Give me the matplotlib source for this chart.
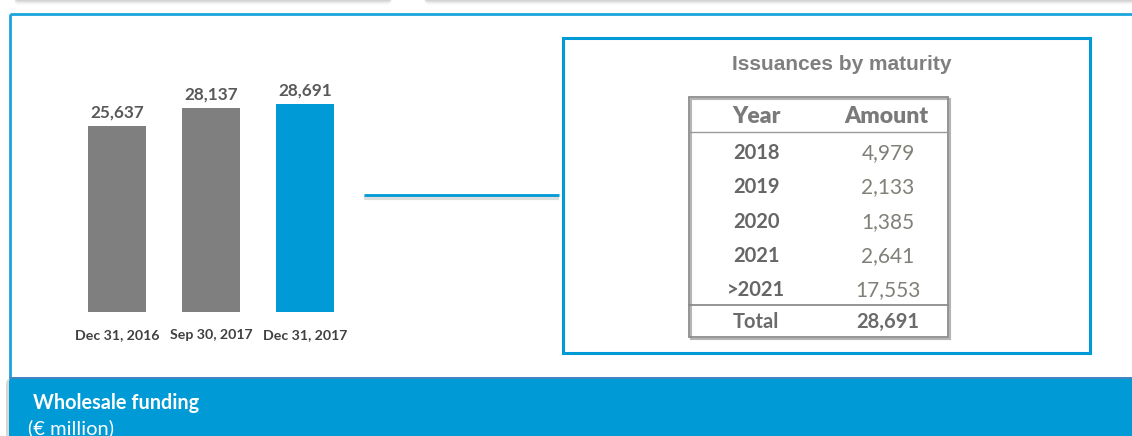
import matplotlib
matplotlib.use("Agg")
import matplotlib.pyplot as plt
from matplotlib.patches import Rectangle, FancyBboxPatch

# data
dates = ["Dec 31, 2016", "Sep 30, 2017", "Dec 31, 2017"]
funding = [25637, 28137, 28691]
bar_colors = ["#7f7f7f", "#7f7f7f", "#009ad6"]

years = ["2018", "2019", "2020", "2021", ">2021"]
amounts = [4979, 2133, 1385, 2641, 17553]
total = 28691

BLUE = "#009ad6"
W, H = 1132, 436

fig = plt.figure(figsize=(W / 100, H / 100), dpi=100)
fig.patch.set_facecolor("white")

# background axes in pixel coordinates
bg = fig.add_axes([0, 0, 1, 1])
bg.set_xlim(0, W)
bg.set_ylim(H, 0)
bg.axis("off")

# top shadow strips
for i, a in enumerate([0.35, 0.22, 0.12, 0.06]):
    bg.add_patch(FancyBboxPatch((14, -6 + i * 1.6), 378, 6, boxstyle="round,pad=0,rounding_size=5",
                                fc="#8a8a8a", ec="none", alpha=a))
    bg.add_patch(FancyBboxPatch((424, -6 + i * 1.6), 720, 6, boxstyle="round,pad=0,rounding_size=5",
                                fc="#8a8a8a", ec="none", alpha=a))

# outer frame
bg.plot([10, 10], [378, 14.5], color="#1aa5dd", lw=2, solid_capstyle="butt")
bg.plot([10, W + 5], [14.5, 14.5], color="#1aa5dd", lw=2, solid_capstyle="butt")

# bottom band
bg.add_patch(FancyBboxPatch((6, 378), W + 20, 70, boxstyle="round,pad=0,rounding_size=6",
                            fc="#b0b0b0", ec="none", alpha=0.5))
bg.add_patch(FancyBboxPatch((9, 377), W + 20, 70, boxstyle="round,pad=0,rounding_size=5",
                            fc=BLUE, ec="none"))
bg.plot([10, W], [377.5, 377.5], color="#4f81bd", lw=1.2)
bg.text(33, 403, "Wholesale funding", color="white", fontsize=14.3, fontweight="bold",
        family="Lato", va="center", ha="left")
bg.text(28, 428, "(€ million)", color="white", fontsize=14.5, family="Lato",
        va="center", ha="left")

# connector line
bg.plot([364, 559], [198, 198], color="#d0d0d0", lw=3, alpha=0.7, solid_capstyle="butt")
bg.plot([364, 559], [195, 195], color=BLUE, lw=2, solid_capstyle="butt")

# right box
bg.add_patch(Rectangle((563, 38), 527, 315, fill=False, ec=BLUE, lw=2.2))
bg.text(842, 65, "Issuances by maturity", color="#7f7f7f", fontsize=15, fontweight="bold",
        family="Liberation Sans", ha="center", va="center")

# table
tx0, tx1, ty0, ty1 = 689, 948, 97, 337
bg.add_patch(Rectangle((tx0 + 2, ty0 + 2), tx1 - tx0, ty1 - ty0, fill=False, ec="#b5b5b5", lw=1.5))
bg.add_patch(Rectangle((tx0, ty0), tx1 - tx0, ty1 - ty0, fill=False, ec="#8c8c8c", lw=1.3))
bg.plot([tx0, tx1], [132, 132], color="#9a9a9a", lw=1)
bg.plot([tx0, tx1], [305, 305], color="#8c8c8c", lw=1.3)

c1, c2 = 756, 886
bg.text(c1, 116, "Year", color="#7a7a7a", fontsize=16.5, fontweight="heavy", family="Lato",
        ha="center", va="center")
bg.text(c2, 116, "Amount", color="#7a7a7a", fontsize=16.5, fontweight="heavy", family="Lato",
        ha="center", va="center")
for i, (yr, amt) in enumerate(zip(years, amounts)):
    y = 153 + i * 34.3
    bg.text(c1, y, yr, color="#666666", fontsize=14.5, fontweight="bold", family="Lato",
            ha="center", va="center")
    bg.text(c2 + 2, y, f"{amt:,}", color="#7f8078", fontsize=15, family="Lato",
            ha="center", va="center")
bg.text(c1, 322, "Total", color="#6b6b6b", fontsize=14.5, fontweight="bold", family="Lato",
        ha="center", va="center")
bg.text(c2 + 2, 322, f"{total:,}", color="#6b6b6b", fontsize=14.5, fontweight="bold", family="Lato",
        ha="center", va="center")

# bar chart
ax = fig.add_axes([70 / W, (H - 312) / H, 282 / W, 290 / H])
ax.patch.set_alpha(0)
x = range(len(dates))
ax.bar(x, funding, width=0.62, color=bar_colors)
for xi, v in zip(x, funding):
    ax.annotate(f"{v:,}", (xi, v), xytext=(0, 4), textcoords="offset points",
                ha="center", va="bottom", fontsize=12.3, fontweight="bold",
                color="#595959", family="Lato")
ax.set_xlim(-0.5, 2.5)
ax.set_ylim(0, 40000)
ax.set_xticks(list(x))
ax.set_xticklabels(dates, fontsize=10.2, fontweight="bold", color="#404040", family="Lato")
ax.tick_params(axis="x", length=0, pad=12)
ax.set_yticks([])
for s in ax.spines.values():
    s.set_visible(False)

fig.savefig("out.png", dpi=100)
